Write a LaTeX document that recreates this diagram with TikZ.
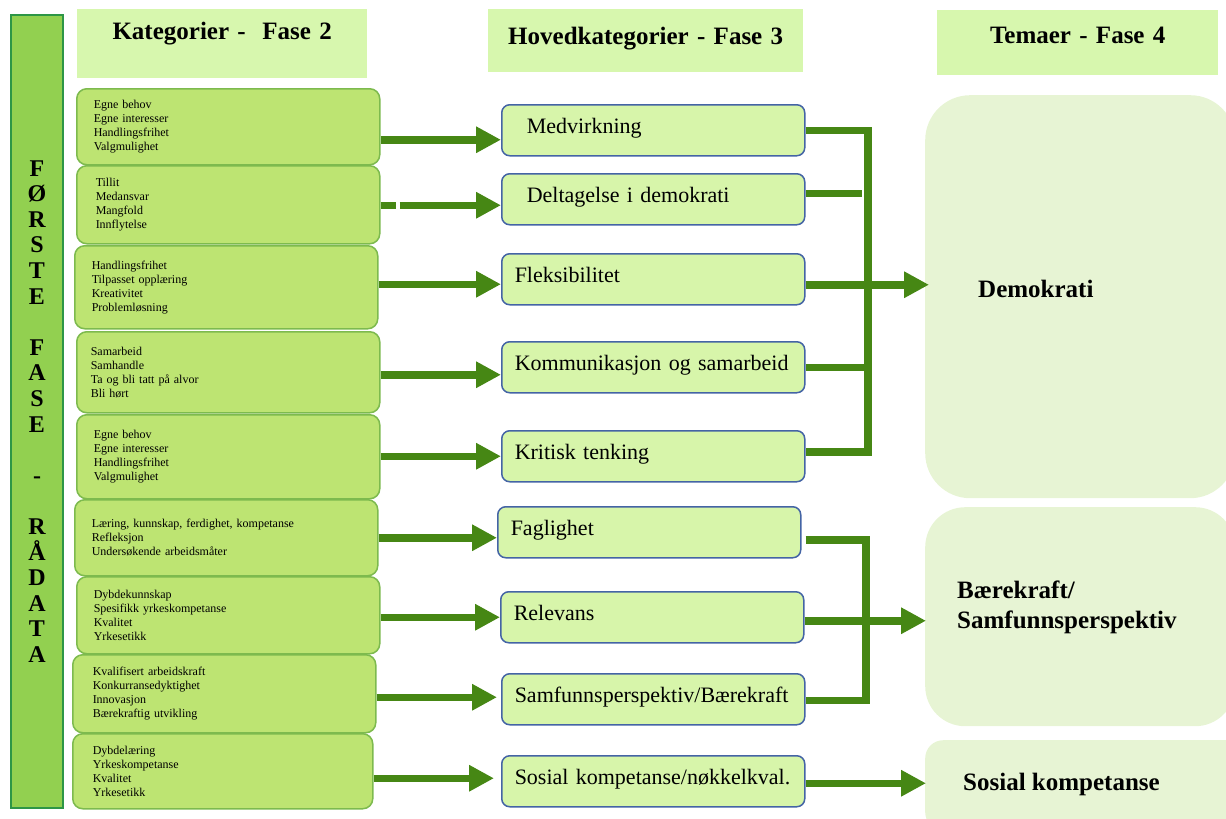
\documentclass[tikz,border=0pt]{standalone}
\usepackage{fontspec}
\setmainfont{Liberation Serif}
\usetikzlibrary{arrows.meta,calc}
\definecolor{barfill}{RGB}{146,208,80}
\definecolor{barline}{RGB}{45,150,70}
\definecolor{catfill}{RGB}{189,228,114}
\definecolor{catline}{RGB}{125,186,78}
\definecolor{headfill}{RGB}{215,247,174}
\definecolor{midfill}{RGB}{215,245,170}
\definecolor{midline}{RGB}{68,100,165}
\definecolor{themefill}{RGB}{231,244,212}
\definecolor{arrowgreen}{RGB}{70,135,20}
\begin{document}
\begin{tikzpicture}[x=1pt,y=1pt,
  catbox/.style={draw=catline, line width=1.5pt, fill=catfill, rounded corners=10pt,
    anchor=north west, align=left, font=\fontsize{12}{14}\selectfont,
    minimum width=303pt, inner xsep=17pt, inner ysep=0pt, text width=269pt},
  midbox/.style={draw=midline, line width=1.5pt, fill=midfill, rounded corners=8pt,
    anchor=north west, align=left, font=\fontsize{22}{26}\selectfont,
    minimum width=303pt, minimum height=51pt, inner xsep=13pt, inner ysep=0pt,
    text width=277pt, text height=29pt, text depth=22pt},
  midboxwide/.style={midbox, inner xsep=25pt, text width=253pt},
  headbox/.style={fill=headfill, anchor=north west, inner sep=0pt, align=center,
    font=\bfseries\fontsize{25}{30}\selectfont},
  themebox/.style={fill=themefill, anchor=north west, inner sep=0pt},
  themetext/.style={anchor=west, align=left, font=\bfseries\fontsize{25}{30}\selectfont, inner sep=0pt},
  conn/.style={draw=arrowgreen, line width=7.5pt},
  arr/.style={conn, -{Triangle[length=25pt,width=25pt]}}
]
\useasboundingbox (0,0) rectangle (1226,-819);
\clip (0,0) rectangle (1226,-819);

% left bar
\node[draw=barline, fill=barfill, line width=2pt, anchor=north west,
  minimum width=52pt, minimum height=793pt, inner sep=0pt, align=center,
  font=\bfseries\fontsize{24}{25.6}\selectfont] (bar) at (10,-14)
  {F\\Ø\\R\\S\\T\\E\\[25.6pt]F\\A\\S\\E\\[25.6pt]-\\[25.6pt]R\\Å\\D\\A\\T\\A};

% headers
\node[headbox, text width=290pt, text height=30.3pt, text depth=38.7pt] (H1) at (77,-9) {Kategorier -\ \ Fase 2};
\node[headbox, text width=315pt, text height=35.3pt, text depth=27.7pt] (H2) at (488,-9) {Hovedkategorier - Fase 3};
\node[headbox, text width=281pt, text height=33.3pt, text depth=31.7pt] (H3) at (937,-10) {Temaer - Fase 4};

% category boxes
\node[catbox, minimum height=76pt] (L1) at (76,-88) {Egne behov\\Egne interesser\\Handlingsfrihet\\Valgmulighet};
\node[catbox, minimum height=78pt, inner xsep=19pt, text width=265pt] (L2) at (76,-165) {Tillit\\Medansvar\\Mangfold\\Innflytelse};
\node[catbox, minimum height=83pt] (L3) at (74,-245) {Handlingsfrihet\\Tilpasset opplæring\\Kreativitet\\Problemløsning};
\node[catbox, minimum height=81pt, inner xsep=14pt, text width=275pt] (L4) at (76,-331) {Samarbeid\\Samhandle\\Ta og bli tatt på alvor\\Bli hørt};
\node[catbox, minimum height=84pt] (L5) at (76,-414) {Egne behov\\Egne interesser\\Handlingsfrihet\\Valgmulighet};
\node[catbox, minimum height=76pt] (L6) at (74,-499) {Læring, kunnskap, ferdighet, kompetanse\\Refleksjon\\Undersøkende arbeidsmåter\\[6pt]};
\node[catbox, minimum height=77pt] (L7) at (76,-576) {Dybdekunnskap\\Spesifikk yrkeskompetanse\\Kvalitet\\Yrkesetikk};
\node[catbox, minimum height=78pt, inner xsep=20pt, text width=263pt] (L8) at (72,-654) {Kvalifisert arbeidskraft\\Konkurransedyktighet\\Innovasjon\\Bærekraftig utvikling};
\node[catbox, minimum height=75pt, minimum width=300pt, inner xsep=20pt, text width=260pt] (L9) at (72,-733) {Dybdelæring\\Yrkeskompetanse\\Kvalitet\\Yrkesetikk};

% main category boxes
\node[midboxwide] (M1) at (501,-104) {Medvirkning};
\node[midboxwide] (M2) at (501,-173) {Deltagelse i demokrati};
\node[midbox] (M3) at (501,-253) {Fleksibilitet};
\node[midbox] (M4) at (501,-341) {Kommunikasjon og samarbeid};
\node[midbox] (M5) at (501,-430) {Kritisk tenking};
\node[midbox] (M6) at (497,-506) {Faglighet};
\node[midbox] (M7) at (500,-591) {Relevans};
\node[midbox] (M8) at (501,-673) {Samfunnsperspektiv/Bærekraft};
\node[midbox] (M9) at (501,-755) {Sosial kompetanse/nøkkelkval.};

% theme boxes
\node[themebox, rounded corners=45pt, minimum width=310pt, minimum height=403pt] (D) at (925,-95) {};
\node[themetext] at ($(D.west)+(53,7.9)$) {Demokrati};
\node[themebox, rounded corners=40pt, minimum width=310pt, minimum height=219pt] (B) at (925,-507) {};
\node[themetext] at ($(B.west)+(32,9.3)$) {Bærekraft/\\Samfunnsperspektiv};
\node[themebox, rounded corners=18pt, minimum width=320pt, minimum height=90pt] (S) at (925,-740) {};
\node[themetext] at ($(S.west)+(38,0.7)$) {Sosial kompetanse};

% arrows from categories to main categories
\draw[arr] ($(M1.west -| L1.east)+(0,-9.5)$) -- ($(M1.west)+(0,-9.5)$);
\draw[conn] ($(M2.west -| L2.east)+(0,-6)$) -- ++(15,0);
\draw[arr] ($(M2.west -| L2.east)+(19,-6)$) -- ($(M2.west)+(0,-6)$);
\draw[arr] ($(M3.west -| L3.east)+(0,-5)$) -- ($(M3.west)+(0,-5)$);
\draw[arr] ($(M4.west -| L4.east)+(0,-7.5)$) -- ($(M4.west)+(0,-7.5)$);
\draw[arr] (M5.west -| L5.east) -- (M5.west);
\draw[arr] ($(M6.west -| L6.east)+(0,-5.5)$) -- ($(M6.west)+(0,-5.5)$);
\draw[arr] (M7.west -| L7.east) -- (M7.west);
\draw[arr] ($(M8.west -| L8.east)+(0,2)$) -- ($(M8.west)+(-4,2)$);
\draw[arr] ($(M9.west -| L9.east)+(0,3)$) -- ($(M9.west)+(-7,3)$);

% group Demokrati
\coordinate (jA) at (868,-284);
\draw[conn] (M1.east) -| ($(jA |- M5.east)+(0,4.5)$) -- ($(M5.east)+(0,4.5)$);
\draw[conn] ($(M2.east)+(0,6)$) -- ++(56,0);
\draw[conn] (M4.east) -- (M4.east -| jA);
\draw[arr] ($(M3.east)+(0,-5.5)$) -- ($(M3.east -| D.west)+(4,-5.5)$);

% group Baerekraft
\coordinate (jB) at (866,-620);
\draw[conn] ($(M6.east)+(4,-7.5)$) -| ($(jB |- M8.east)+(0,-1)$) -- ($(M8.east)+(0,-1)$);
\draw[arr] ($(M7.east)+(0,-3.5)$) -- ($(M7.east -| B.west)+(1,-3.5)$);

% Sosial
\draw[arr] ($(M9.east)+(0,-2)$) -- ($(M9.east -| S.west)+(1,-2)$);
\end{tikzpicture}
\end{document}
